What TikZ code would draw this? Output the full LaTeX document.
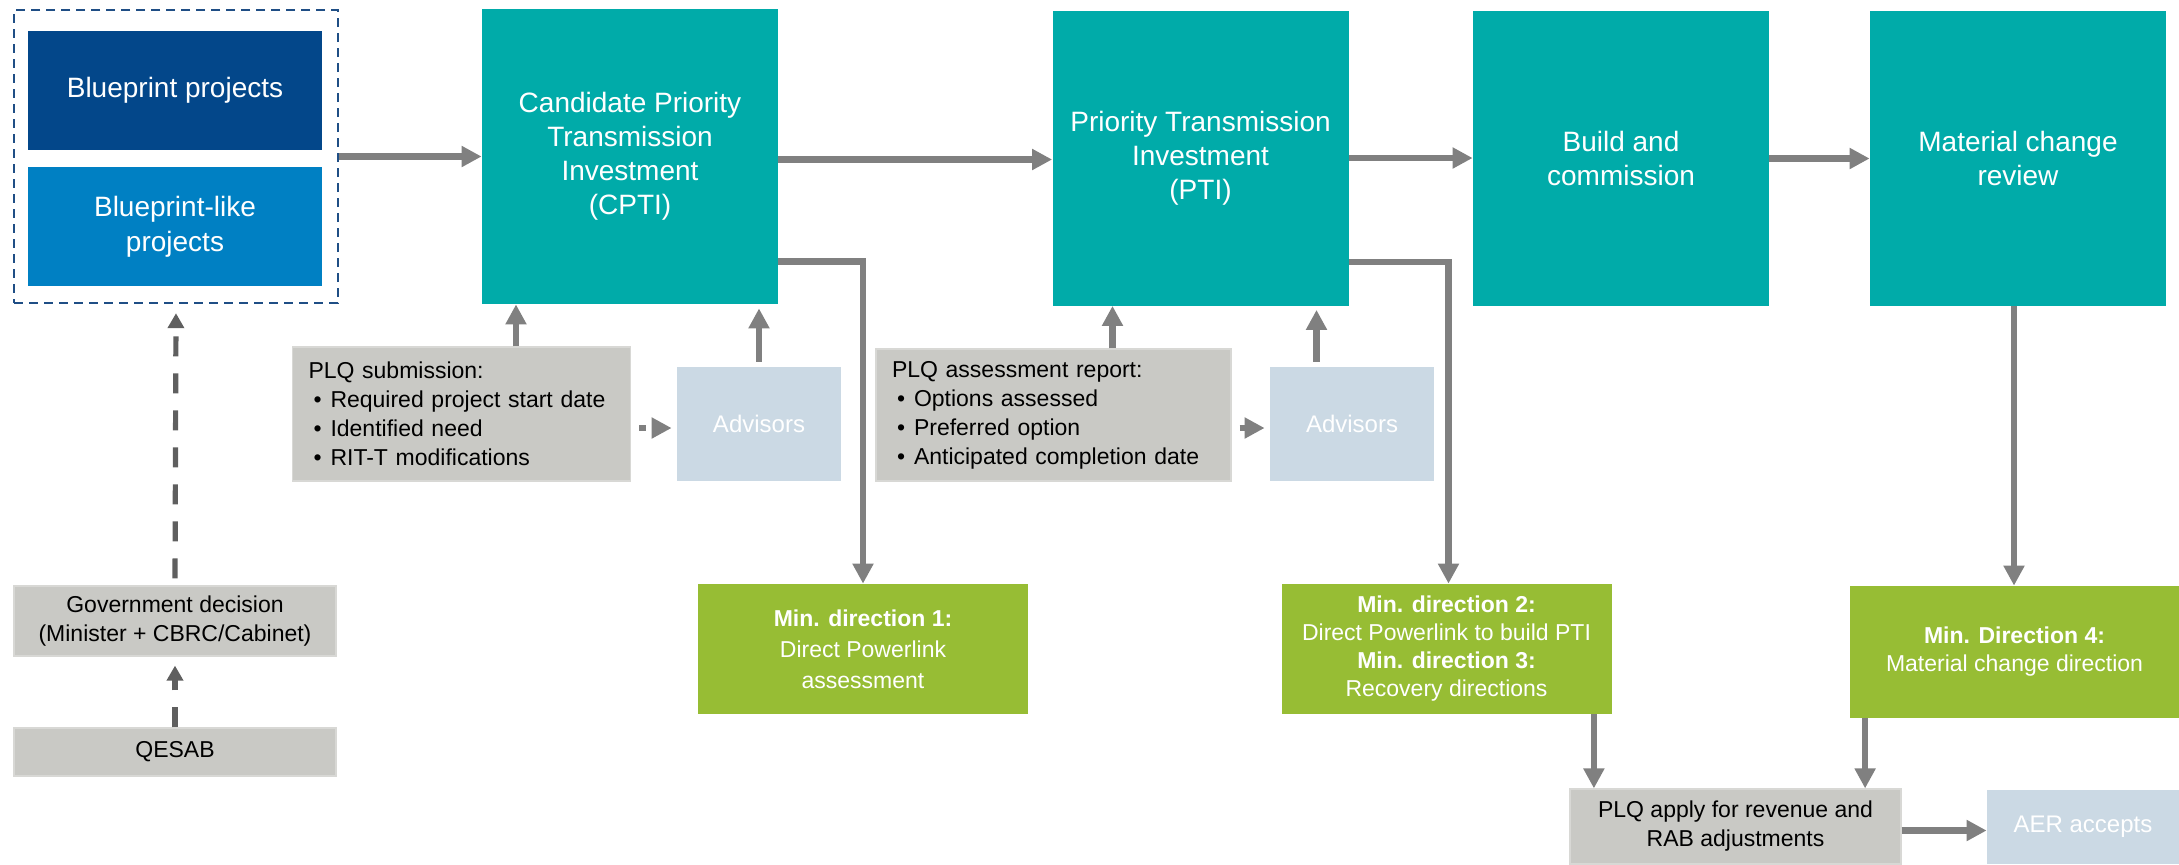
\documentclass[tikz,border=0pt]{standalone}
\usepackage{fontspec}
\setmainfont{Liberation Sans}
\usetikzlibrary{arrows.meta}
\definecolor{bpdark}{HTML}{03478A}
\definecolor{bplight}{HTML}{0080C3}
\definecolor{framec}{HTML}{1F4E85}
\definecolor{tealc}{HTML}{00ABA9}
\definecolor{greenc}{HTML}{97BD34}
\definecolor{greyc}{HTML}{C9C9C5}
\definecolor{greyline}{HTML}{D8D8D5}
\definecolor{advc}{HTML}{CBD9E4}
\definecolor{arrc}{HTML}{808080}
\definecolor{darrc}{HTML}{5F5F5F}
\newcommand{\bul}{\hspace*{2.5pt}\makebox[8.5pt][l]{\textbullet}}

\begin{document}
\begin{tikzpicture}[x=0.5pt,y=-0.5pt,
                        box/.style={inner sep=0pt,align=center},
                        bpbox/.style={box,text=white,minimum width=147pt,minimum height=59.5pt,font=\fontsize{14}{17.5}\selectfont},
                        stage/.style={box,fill=tealc,text=white,minimum width=148pt,minimum height=147.5pt,font=\fontsize{14}{17}\selectfont},
                        mindir/.style={box,fill=greenc,text=white,minimum width=165pt,minimum height=65pt,font=\fontsize{11.5}{14}\selectfont},
                        greybox/.style={box,fill=greyc,draw=greyline,line width=0.6pt,font=\fontsize{11.5}{14.5}\selectfont},
                        advbox/.style={box,fill=advc,text=white,minimum width=82pt,minimum height=57pt,font=\fontsize{12}{14}\selectfont},
                        arr/.style={draw=arrc,line width=3.3pt,-{Triangle[length=10pt,width=10pt]}},
                        dasharr/.style={draw=darrc,line width=2.6pt,dash pattern=on 10pt off 8.5pt,-{Triangle[length=7.5pt,width=8pt]}}]
                        \useasboundingbox (0,0) rectangle (2179,864);

                        \node[box,draw=framec,line width=1.2pt,dash pattern=on 4.5pt off 3pt,minimum width=162pt,minimum height=146.5pt] (frame) at (176,156.5) {};
                        \node[bpbox,fill=bpdark] (bp) at (175,90.5) {Blueprint projects};
                        \node[bpbox,fill=bplight] (bpl) at (175,226.5) {Blueprint-like\\projects};

                        \node[stage] (cpti) at (630,156.5) {Candidate Priority\\Transmission\\Investment\\(CPTI)};
                        \node[stage] (pti) at (1200.5,158) {Priority Transmission\\Investment\\(PTI)};
                        \node[stage] (build) at (1621,158.5) {Build and\\commission};
                        \node[stage] (mcr) at (2018,158.5) {Material change\\review};

                        \node[greybox,minimum width=161pt,minimum height=35pt] (gov) at (175,621) {Government decision\\(Minister + CBRC/Cabinet)};
                        \node[greybox,minimum width=161pt,minimum height=24pt] (qesab) at (175,752) {QESAB};

                        \node[greybox,align=left,text width=153pt,inner xsep=8pt,minimum height=67pt] (plqsub) at (461.5,414) {PLQ submission:\\\bul Required project start date\\\bul Identified need\\\bul RIT-T modifications};
                        \node[advbox] (adv1) at (759,424) {Advisors};
                        \node[greybox,align=left,text width=161.5pt,inner xsep=8pt,minimum height=66pt] (plqrep) at (1053.5,415) {PLQ assessment report:\\\bul Options assessed\\\bul Preferred option\\\bul Anticipated completion date};
                        \node[advbox] (adv2) at (1352,424) {Advisors};

                        \node[mindir,font=\fontsize{11.5}{15.5}\selectfont] (md1) at (863,649) {\textbf{Min. direction 1:}\\Direct Powerlink\\assessment};
                        \node[mindir] (md2) at (1446.5,649) {\textbf{Min. direction 2:}\\Direct Powerlink to build PTI\\\textbf{Min. direction 3:}\\Recovery directions};
                        \node[mindir,minimum height=66pt] (md4) at (2014.5,652) {\textbf{Min. Direction 4:}\\Material change direction};

                        \node[greybox,minimum width=165.5pt,minimum height=37.5pt] (plqapp) at (1735.5,826.5) {PLQ apply for revenue and\\RAB adjustments};
                        \node[advbox,minimum width=96pt,minimum height=37pt] (aer) at (2083,827) {AER accepts};

                        \draw[arr] (frame.east) -- (cpti.west);
                        \draw[arr] ([yshift=-1.5pt]cpti.east) -- ([yshift=-1.5pt]cpti.east -| pti.west);
                        \draw[arr] (pti.east) -- (pti.east -| build.west);
                        \draw[arr] (build.east) -- (build.east -| mcr.west);

                        \draw[dasharr,dash phase=15pt] (gov.north) -- ([yshift=-4.5pt]frame.south);
                        \draw[dasharr,shorten >=4.5pt] (qesab.north) -- (gov.south);

                        \draw[arr] ([xshift=-57pt]cpti.south |- plqsub.north) -- ([xshift=-57pt]cpti.south);
                        \draw[arr, shorten <= 2.5pt, shorten >= 2pt] (adv1.north) -- (adv1.north |- cpti.south);
                        \draw[arr] ([xshift=-44pt]pti.south |- plqrep.north) -- ([xshift=-44pt]pti.south);
                        \draw[arr, shorten <= 2.5pt, shorten >= 2pt] ([xshift=58pt]pti.south |- adv2.north) -- ([xshift=58pt]pti.south);

                        \draw[arr,dash pattern=on 3.5pt off 10pt, shorten <= 4pt, shorten >= 2.5pt] (plqsub.east |- 0,428) -- (adv1.west |- 0,428);
                        \draw[arr,dash pattern=on 3.5pt off 10pt, shorten <= 4pt, shorten >= 2.5pt] (plqrep.east |- 0,428) -- (adv2.west |- 0,428);

                        \draw[arr] ([yshift=21.5pt]cpti.south east) -| (md1.north);
                        \draw[arr] ([yshift=22pt]pti.south east) -| ([xshift=1pt]md2.north);
                        \draw[arr] ([xshift=-2pt]mcr.south) -- ([xshift=-2pt]mcr.south |- md4.north);

                        \draw[arr] ([xshift=-9pt]md2.south east) -- ([xshift=-9pt]md2.south east |- plqapp.north);
                        \draw[arr] ([xshift=8pt]md4.south west) -- ([xshift=8pt]md4.south west |- plqapp.north);
                        \draw[arr] ([yshift=-2pt]plqapp.east) -- ([yshift=-2pt]plqapp.east -| aer.west);
                      \end{tikzpicture}
\end{document}
